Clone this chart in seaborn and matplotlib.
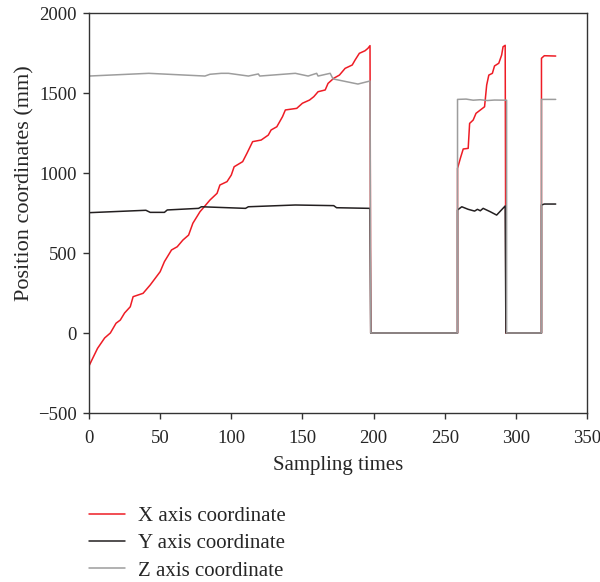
import pandas as pd
import matplotlib
matplotlib.use("Agg")
import matplotlib.pyplot as plt
import seaborn as sns

# Points (sampling time, position in mm)
x_axis_t = [0, 2, 6, 11, 15, 19, 22, 25, 29, 31, 38, 43, 50, 53, 58, 62, 66, 70, 73, 78,
            81, 85, 90, 92, 97, 100, 102, 108, 111, 115, 121, 126, 128, 132, 136, 138, 146, 150, 155, 158,
            161, 166, 168, 172, 176, 180, 185, 187, 190, 194, 196, 197.5, 198, 259, 259, 261, 263, 266.5, 267.5, 270,
            272, 278, 279.5, 281, 283.5, 285, 288, 290, 291, 292.5, 293, 318, 318, 320, 328]
x_axis_pos = [-206, -169, -96, -31, 0, 61, 81, 125, 164, 227, 248, 300, 383, 446, 519, 539, 581, 612, 686, 758,
              789, 831, 873, 925, 946, 987, 1039, 1071, 1123, 1196, 1206, 1237, 1269, 1289, 1352, 1394, 1404, 1436, 1456, 1477,
              1508, 1519, 1560, 1592, 1612, 1654, 1675, 1706, 1748, 1764, 1779, 1796, 0, 0, 1029, 1092, 1150, 1154, 1310, 1331,
              1373, 1414, 1550, 1612, 1623, 1669, 1686, 1737, 1789, 1798, 0, 0, 1717, 1733, 1731]

y_axis_t = [0, 40, 43, 53, 55, 77, 79, 110, 112, 145, 172, 174, 197.5, 198, 259,
            259, 262, 266.5, 271, 273, 275, 277, 282, 286.5, 292.5, 293, 318, 318, 320, 328]
y_axis_pos = [752, 767, 754, 754, 769, 779, 789, 779, 789, 800, 796, 783, 779, 0, 0,
              769, 789, 773, 762, 773, 764, 779, 758, 737, 794, 0, 0, 800, 806, 806]

z_axis_t = [0, 42, 81.5, 85, 93, 98, 112, 119, 120, 145, 154, 160, 161, 169.5, 171.5,
            189, 197.5, 198, 259, 259, 265, 270, 275, 280, 285, 293.5, 293.5, 318, 318, 328]
z_axis_pos = [1606, 1623, 1606, 1617, 1623, 1623, 1606, 1619, 1606, 1623, 1606, 1623, 1606, 1623, 1588,
              1556, 1575, 0, 0, 1460, 1462, 1455, 1458, 1453, 1456, 1455, 0, 0, 1460, 1460]

serier = ["X axis coordinate", "Y axis coordinate", "Z axis coordinate"]
farger = ["#ee1c25", "#231f20", "#9d9d9d"]

df = pd.DataFrame({
    "t": x_axis_t + y_axis_t + z_axis_t,
    "pos": x_axis_pos + y_axis_pos + z_axis_pos,
    "serie": [serier[0]] * len(x_axis_t) + [serier[1]] * len(y_axis_t) + [serier[2]] * len(z_axis_t),
})

sns.set_style("ticks")
plt.rcParams["font.family"] = ["Liberation Serif", "DejaVu Serif"]

fig = plt.figure(figsize=(6, 5.82), dpi=100)
ax = fig.add_axes([89 / 600, 1 - 413 / 582, 498 / 600, 400 / 582])

sns.lineplot(data=df, x="t", y="pos", hue="serie", palette=farger, hue_order=serier,
             estimator=None, sort=False, linewidth=1.1, ax=ax)

ax.set_xlim(0, 350)
ax.set_ylim(-500, 2000)
ax.set_xticks(range(0, 351, 50))
ax.set_yticks(range(-500, 2001, 500))
ax.set_xlabel("Sampling times", fontsize=15, labelpad=7)
ax.set_ylabel("Position coordinates (mm)", fontsize=16)
ax.yaxis.set_label_coords(-0.11, 0.575)
ax.tick_params(labelsize=13.5, length=4, width=1, color="#333333", direction="out")
ax.tick_params(axis="x", pad=8)
ax.tick_params(axis="y", pad=5)
for s in ax.spines.values():
    s.set_color("#333333")
    s.set_linewidth(1)

handles, labels = ax.get_legend_handles_labels()
ax.get_legend().remove()
fig.legend(handles, labels, loc="upper left", bbox_to_anchor=(70 / 600, 1 - 488 / 582),
           frameon=False, fontsize=15, handlelength=1.75, handletextpad=0.63, labelspacing=0.36)

plt.savefig("out.png", dpi=100)
